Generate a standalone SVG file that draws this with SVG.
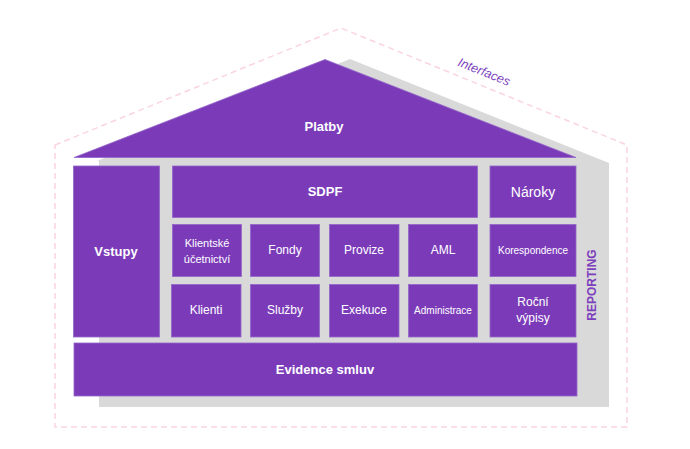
<svg xmlns="http://www.w3.org/2000/svg" width="690" height="449" viewBox="0 0 690 449">
<style>
.box{fill:#7b3bb9;stroke:#9466c9;stroke-width:0.8}
.t{font-family:"Liberation Sans",Arial,sans-serif;fill:#ffffff;text-anchor:middle;dominant-baseline:central}
.b{font-weight:bold;font-size:13px}
.r{font-size:12px}
.s{font-size:10px}
</style>
<rect width="690" height="449" fill="#ffffff"/>
<polygon points="55,145 341,28 627,145 627,427 55,427" fill="none" stroke="#fad4e4" stroke-width="1.5" stroke-dasharray="6,4"/>
<text x="484" y="72" transform="rotate(22 484 72)" font-family="Liberation Sans,Arial,sans-serif" font-size="12.5" font-style="italic" fill="#7d3fbd" text-anchor="middle" dominant-baseline="central">Interfaces</text>
<polygon points="97,161 350,59 609,163 609,407 99,407 99,161" fill="#d9d9d9"/>
<text x="592" y="285" transform="rotate(-90 592 285)" font-family="Liberation Sans,Arial,sans-serif" font-size="12" font-weight="bold" fill="#7d3fbd" text-anchor="middle" dominant-baseline="central">REPORTING</text>
<g id="connectors"></g>
<g id="platby"><polygon class="box" points="74,157.5 325,59.5 576,157.5"/><text class="t b" x="324" y="126">Platby</text></g>
<g id="vstupy"><rect class="box" x="73.5" y="166" width="86" height="171"/><text class="t b" x="116" y="251">Vstupy</text></g>
<g id="sdpf"><rect class="box" x="172.5" y="166" width="305" height="51.5"/><text class="t b" x="325" y="191">SDPF</text></g>
<g id="naroky"><rect class="box" x="490" y="166" width="86" height="51.5"/><text class="t" x="533" y="192" font-size="14">Nároky</text></g>
<g id="klientske"><rect class="box" x="172.5" y="224.5" width="69" height="52"/><text class="t" x="207" y="243" font-size="11">Klientské</text><text class="t" x="207" y="259" font-size="11">účetnictví</text></g>
<g id="fondy"><rect class="box" x="250.5" y="224.5" width="69" height="52"/><text class="t r" x="285" y="250">Fondy</text></g>
<g id="provize"><rect class="box" x="329.5" y="224.5" width="69.5" height="52"/><text class="t r" x="364" y="250">Provize</text></g>
<g id="aml"><rect class="box" x="408.5" y="224.5" width="69" height="52"/><text class="t r" x="443" y="250">AML</text></g>
<g id="korespondence"><rect class="box" x="490" y="224.5" width="86" height="52"/><text class="t s" x="533" y="250">Korespondence</text></g>
<g id="klienti"><rect class="box" x="171.5" y="284.5" width="69.5" height="52.5"/><text class="t r" x="206" y="310">Klienti</text></g>
<g id="sluzby"><rect class="box" x="250.5" y="284.5" width="69" height="52.5"/><text class="t r" x="285" y="310">Služby</text></g>
<g id="exekuce"><rect class="box" x="329.5" y="284.5" width="69.5" height="52.5"/><text class="t r" x="364" y="310">Exekuce</text></g>
<g id="administrace"><rect class="box" x="408.5" y="284.5" width="69" height="52.5"/><text class="t s" x="443" y="310">Administrace</text></g>
<g id="rocni"><rect class="box" x="490" y="284.5" width="86" height="52.5"/><text class="t r" x="533" y="302">Roční</text><text class="t r" x="533" y="318">výpisy</text></g>
<g id="evidence"><rect class="box" x="74" y="343" width="503" height="53"/><text class="t b" x="325" y="369">Evidence smluv</text></g>
</svg>
